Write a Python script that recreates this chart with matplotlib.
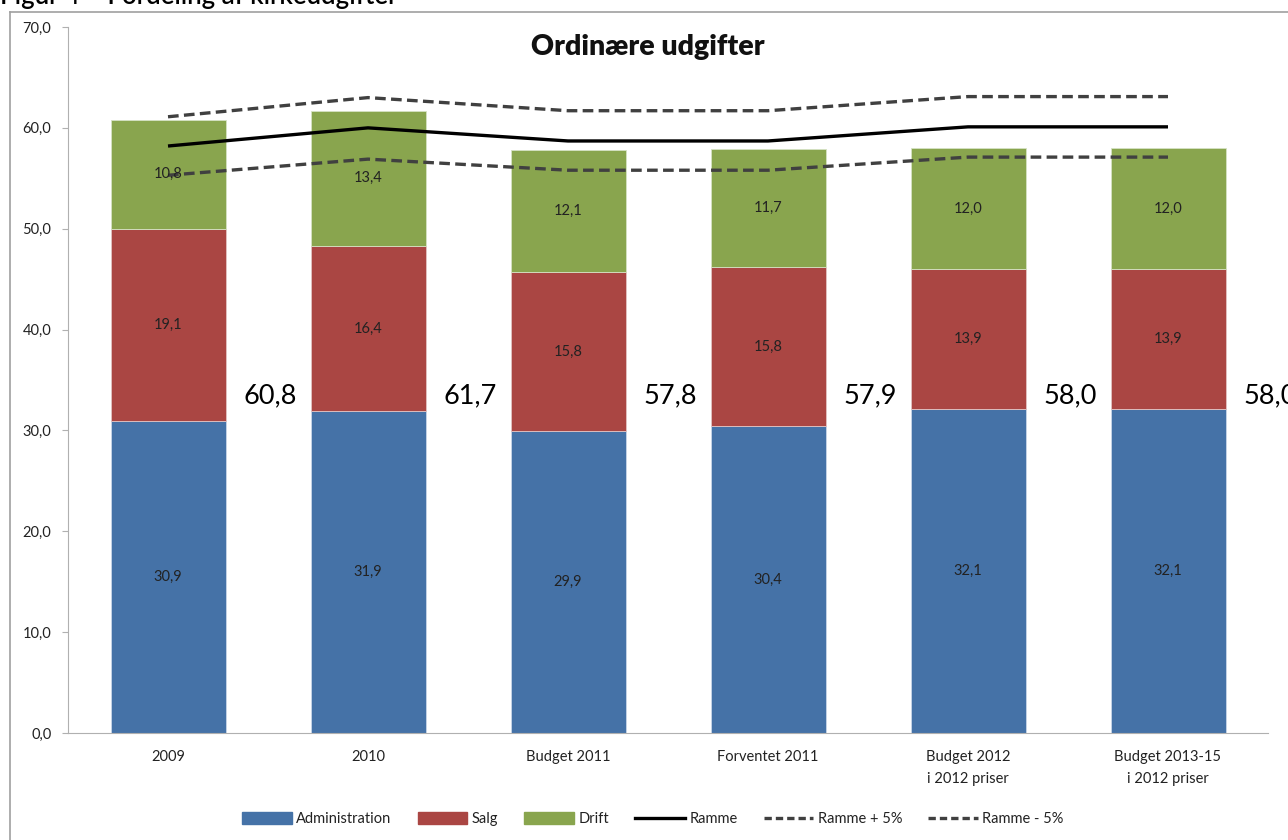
import numpy as np
import matplotlib.pyplot as plt
from matplotlib.lines import Line2D
from matplotlib.patches import Patch
from matplotlib.ticker import FuncFormatter

plt.rcParams['font.family'] = ['Lato', 'DejaVu Sans']

categories = ['2009', '2010', 'Budget 2011', 'Forventet 2011',
              'Budget 2012\ni 2012 priser', 'Budget 2013-15\ni 2012 priser']
administration = [30.9, 31.9, 29.9, 30.4, 32.1, 32.1]
salg = [19.1, 16.4, 15.8, 15.8, 13.9, 13.9]
drift = [10.8, 13.4, 12.1, 11.7, 12.0, 12.0]
totals = [60.8, 61.7, 57.8, 57.9, 58.0, 58.0]
ramme = [58.2, 60.0, 58.7, 58.7, 60.1, 60.1]
ramme_plus = [61.1, 63.0, 61.7, 61.7, 63.1, 63.1]
ramme_minus = [55.3, 56.9, 55.8, 55.8, 57.1, 57.1]

c_adm = '#4572A7'
c_salg = '#AA4643'
c_drift = '#89A54E'
c_dash = '#404040'

fig = plt.figure(figsize=(12.88, 8.4), dpi=100)
ax = fig.add_axes([68 / 1288, 1 - 733 / 840, 1200 / 1288, (733 - 27) / 840])

x = np.arange(len(categories))
w = 0.575
adm = np.array(administration)
sal = np.array(salg)
dri = np.array(drift)

ax.bar(x, adm, w, color=c_adm, edgecolor='#c9d6e8', linewidth=0.6, zorder=2)
ax.bar(x, sal, w, bottom=adm, color=c_salg, edgecolor='#e2c4c3', linewidth=0.6, zorder=2)
ax.bar(x, dri, w, bottom=adm + sal, color=c_drift, edgecolor='#d6e2c4', linewidth=0.6, zorder=2)

fmt = lambda v: ('%.1f' % v).replace('.', ',')
for i in range(len(x)):
    ax.text(x[i], adm[i] / 2, fmt(adm[i]), ha='center', va='center', fontsize=10.5, color='#222222', zorder=5)
    ax.text(x[i], adm[i] + sal[i] / 2, fmt(sal[i]), ha='center', va='center', fontsize=10.5, color='#222222', zorder=5)
    ax.text(x[i], adm[i] + sal[i] + dri[i] / 2, fmt(dri[i]), ha='center', va='center', fontsize=10.5, color='#222222', zorder=5)
    ax.text(x[i] + 0.51, 33.4, fmt(totals[i]), ha='center', va='center', fontsize=19.5, color='black', zorder=6,
            bbox=dict(boxstyle='square,pad=0.3', facecolor='white', edgecolor='none'), clip_on=False)

ax.plot(x, ramme, color='black', lw=2.4, zorder=4, solid_capstyle='butt')
ax.plot(x, ramme_plus, color=c_dash, lw=2.4, ls=(0, (3.2, 1.6)), zorder=4)
ax.plot(x, ramme_minus, color=c_dash, lw=2.4, ls=(0, (3.2, 1.6)), zorder=4)

ax.set_xlim(-0.5, len(x) - 0.5)
ax.set_ylim(0, 70)
ax.set_yticks(np.arange(0, 71, 10))
ax.yaxis.set_major_formatter(FuncFormatter(lambda v, p: fmt(v)))
ax.set_xticks(x)
ax.set_xticklabels(categories, fontsize=10.5, color='#222222', linespacing=1.75)
ax.tick_params(axis='x', length=0, pad=12)
ax.tick_params(axis='y', length=4, color='#b0b0b0', labelsize=10.5, labelcolor='#222222', pad=8)
for s in ['top', 'right']:
    ax.spines[s].set_visible(False)
ax.spines['left'].set_color('#b0b0b0')
ax.spines['bottom'].set_color('#b0b0b0')

fig.text(648 / 1288, 1 - 47 / 840, 'Ordinære udgifter', ha='center', va='center',
         fontsize=20.5, fontweight='heavy', color='#111111')

handles = [Patch(color=c_adm, label='Administration'),
           Patch(color=c_salg, label='Salg'),
           Patch(color=c_drift, label='Drift'),
           Line2D([], [], color='black', lw=2.4, label='Ramme'),
           Line2D([], [], color=c_dash, lw=2.4, ls=(0, (2.2, 1.2)), label='Ramme + 5%'),
           Line2D([], [], color=c_dash, lw=2.4, ls=(0, (2.2, 1.2)), label='Ramme - 5%')]
fig.legend(handles=handles, loc='center', bbox_to_anchor=(653 / 1288, 1 - 819 / 840), ncol=6,
           frameon=False, fontsize=10.5, handlelength=3.4, handleheight=0.8, handletextpad=0.3,
           columnspacing=1.8, labelcolor='#222222')

# outer frame of the embedded chart and the clipped caption above it
fig.add_artist(Line2D([10 / 1288, 10 / 1288], [0, 1 - 12 / 840], color='#a0a0a0', lw=1.2))
fig.add_artist(Line2D([10 / 1288, 1], [1 - 12 / 840, 1 - 12 / 840], color='#a0a0a0', lw=1.2))
fig.text(0.0, 1 - 4 / 840, 'Figur 4 – Fordeling af kirkeudgifter', ha='left', va='baseline',
         fontsize=18.5, fontweight='semibold', color='black')

fig.savefig('out.png', dpi=100, facecolor='white')
